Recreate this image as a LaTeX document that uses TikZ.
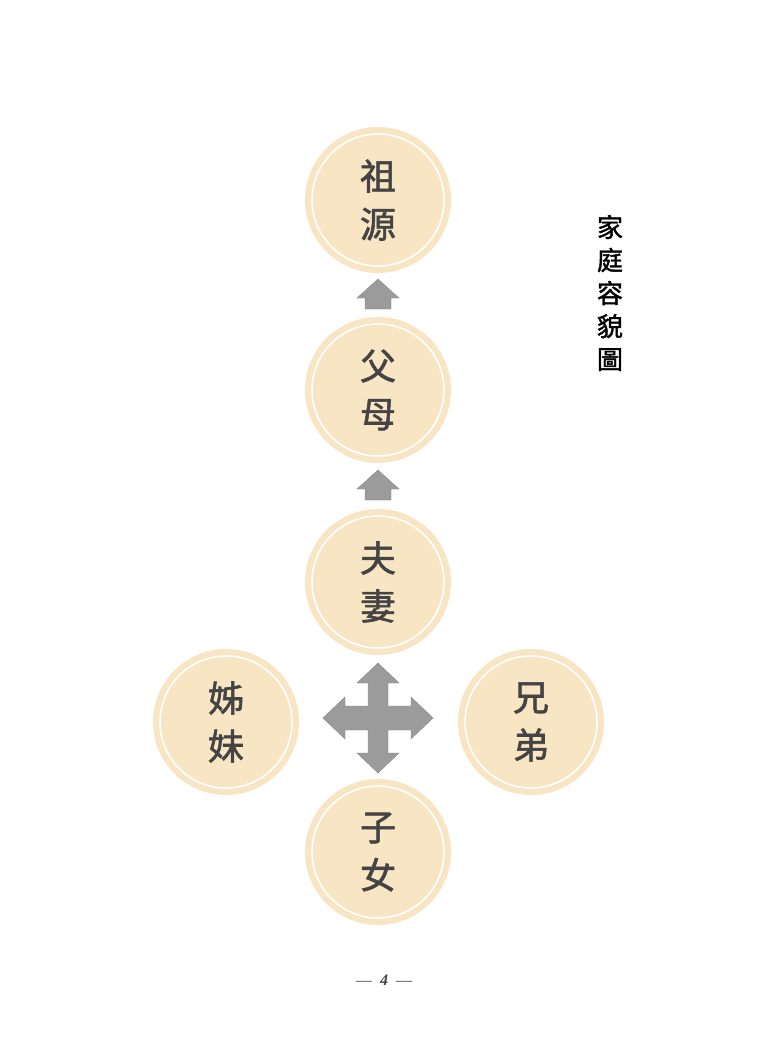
\documentclass[tikz,border=0pt]{standalone}
\usepackage{fontspec}
\newfontfamily\cjk[FakeBold=1.6]{Noto Sans CJK TC}
\setmainfont{Liberation Serif}
\definecolor{disc}{HTML}{F8E5C4}
\definecolor{txt}{HTML}{444444}
\definecolor{arr}{HTML}{9B9B9B}
\definecolor{arredge}{HTML}{8A8A8A}
\begin{document}
\begin{tikzpicture}[x=1pt,y=-1pt,
  famdisc/.style={circle,fill=disc,minimum size=146pt,inner sep=0pt,
    path picture={\draw[white,line width=1.6pt] (path picture bounding box.center) circle (66pt);},
    font=\cjk\fontsize{36}{48}\selectfont,text=txt,align=center},
  grayarrow/.style={fill=arr,draw=arredge,line width=0.4pt,line join=miter}]
\useasboundingbox (0,0) rectangle (767,1042);
\fill[white] (0,0) rectangle (767,1042);
\node[famdisc] (zy) at (378,200) {祖\\源};
\node[famdisc] (fm) at (378,390) {父\\母};
\node[famdisc] (fq) at (378,582) {夫\\妻};
\node[famdisc] (zn) at (378,852) {子\\女};
\node[famdisc] (jm) at (226,722) {姊\\妹};
\node[famdisc] (xd) at (531,722) {兄\\弟};
% small up arrows
\coordinate (a1) at (378,279);
\coordinate (a2) at (378,470);
\foreach \c in {a1,a2}{
  \path[grayarrow] (\c) -- ++(21,19) -- ++(-8,0) -- ++(0,11) -- ++(-26,0) -- ++(0,-11) -- ++(-8,0) -- cycle;
}
% cross arrow
\coordinate (cx) at (378,718);
\path[grayarrow] (cx)
  ++(0,-55) -- ++(21,20) -- ++(-11,0) -- ++(0,23) -- ++(23,0) -- ++(0,-9) -- ++(22,21)
  -- ++(-22,21) -- ++(0,-9) -- ++(-23,0) -- ++(0,23) -- ++(11,0) -- ++(-21,20)
  -- ++(-21,-20) -- ++(11,0) -- ++(0,-23) -- ++(-23,0) -- ++(0,9) -- ++(-22,-21)
  -- ++(22,-21) -- ++(0,9) -- ++(23,0) -- ++(0,-23) -- ++(-11,0) -- cycle;
% title
\node[font=\cjk\fontsize{26}{33}\selectfont,align=center,text=black] (title) at (610,293) {家\\庭\\容\\貌\\圖};
% page number
\node[font=\fontsize{16}{18}\selectfont,text=txt] (pg) at (384,980) {—\hspace{0.5em}\textbf{\textit{4}}\hspace{0.5em}—};
\end{tikzpicture}
\end{document}
